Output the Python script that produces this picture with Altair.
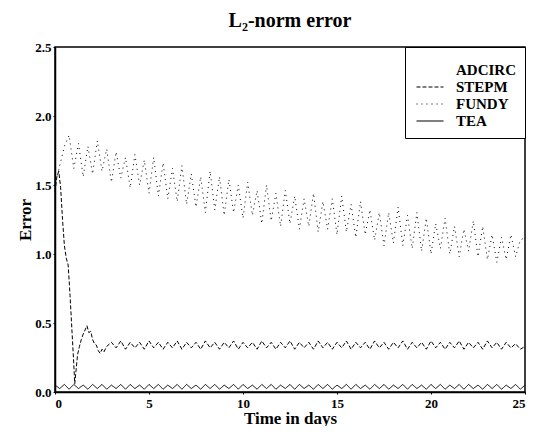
import altair as alt
import pandas as pd

series_names = ["ADCIRC", "STEPM", "FUNDY", "TEA"]

adcirc_t = [0.0, 25.0]
adcirc_v = [0.0, 0.0]

stepm_t = [0.0, 0.1, 0.2, 0.3, 0.4, 0.5, 0.6, 0.7, 0.8, 0.9, 1.0, 1.05, 1.1, 1.2, 1.3,
           1.4, 1.5, 1.6, 1.7, 1.8, 1.9, 2.0, 2.1, 2.2, 2.3, 2.4, 2.5, 2.6, 2.75,
           3.0, 3.25, 3.5, 3.75, 4.0, 4.25, 4.5, 4.75, 5.0, 5.25, 5.5, 5.75, 6.0, 6.25,
           6.5, 6.75, 7.0, 7.25, 7.5, 7.75, 8.0, 8.25, 8.5, 8.75, 9.0, 9.25, 9.5, 9.75,
           10.0, 10.25, 10.5, 10.75, 11.0, 11.25, 11.5, 11.75, 12.0, 12.25, 12.5, 12.75,
           13.0, 13.25, 13.5, 13.75, 14.0, 14.25, 14.5, 14.75, 15.0, 15.25, 15.5, 15.75,
           16.0, 16.25, 16.5, 16.75, 17.0, 17.25, 17.5, 17.75, 18.0, 18.25, 18.5, 18.75,
           19.0, 19.25, 19.5, 19.75, 20.0, 20.25, 20.5, 20.75, 21.0, 21.25, 21.5, 21.75,
           22.0, 22.25, 22.5, 22.75, 23.0, 23.25, 23.5, 23.75, 24.0, 24.25, 24.5, 24.75, 25.0]
stepm_v = [1.45, 1.56, 1.60, 1.48, 1.25, 1.06, 0.97, 0.92, 0.70, 0.45, 0.20, 0.06, 0.13, 0.27, 0.33,
           0.38, 0.42, 0.45, 0.48, 0.43, 0.44, 0.38, 0.35, 0.34, 0.30, 0.28, 0.31, 0.29, 0.33,
           0.36, 0.32, 0.37, 0.31, 0.36, 0.32, 0.36, 0.31, 0.37, 0.32, 0.36, 0.31, 0.36, 0.32,
           0.37, 0.31, 0.36, 0.32, 0.36, 0.31, 0.37, 0.32, 0.36, 0.31, 0.36, 0.32, 0.37, 0.31,
           0.36, 0.32, 0.36, 0.31, 0.37, 0.32, 0.36, 0.31, 0.36, 0.32, 0.37, 0.31,
           0.36, 0.32, 0.36, 0.31, 0.37, 0.32, 0.36, 0.31, 0.36, 0.32, 0.37, 0.31,
           0.36, 0.32, 0.36, 0.31, 0.37, 0.32, 0.36, 0.31, 0.36, 0.32, 0.37, 0.31,
           0.36, 0.32, 0.36, 0.31, 0.37, 0.32, 0.36, 0.31, 0.36, 0.32, 0.37, 0.31,
           0.36, 0.32, 0.36, 0.31, 0.37, 0.32, 0.36, 0.31, 0.36, 0.32, 0.35, 0.31, 0.33]

grid_t = [0.0, 0.25, 0.5, 0.75, 1.0, 1.25, 1.5, 1.75, 2.0, 2.25, 2.5, 2.75, 3.0, 3.25, 3.5, 3.75,
          4.0, 4.25, 4.5, 4.75, 5.0, 5.25, 5.5, 5.75, 6.0, 6.25, 6.5, 6.75, 7.0, 7.25, 7.5, 7.75,
          8.0, 8.25, 8.5, 8.75, 9.0, 9.25, 9.5, 9.75, 10.0, 10.25, 10.5, 10.75, 11.0, 11.25, 11.5,
          11.75, 12.0, 12.25, 12.5, 12.75, 13.0, 13.25, 13.5, 13.75, 14.0, 14.25, 14.5, 14.75,
          15.0, 15.25, 15.5, 15.75, 16.0, 16.25, 16.5, 16.75, 17.0, 17.25, 17.5, 17.75, 18.0,
          18.25, 18.5, 18.75, 19.0, 19.25, 19.5, 19.75, 20.0, 20.25, 20.5, 20.75, 21.0, 21.25,
          21.5, 21.75, 22.0, 22.25, 22.5, 22.75, 23.0, 23.25, 23.5, 23.75, 24.0, 24.25, 24.5,
          24.75, 25.0]

fundy_v = [1.50, 1.64, 1.78, 1.86, 1.62, 1.80, 1.56, 1.78, 1.58, 1.82, 1.60, 1.76, 1.52, 1.74, 1.55, 1.70,
           1.48, 1.72, 1.50, 1.68, 1.44, 1.70, 1.42, 1.66, 1.40, 1.62, 1.38, 1.64, 1.36, 1.58, 1.34, 1.56,
           1.30, 1.60, 1.32, 1.56, 1.28, 1.54, 1.30, 1.50, 1.26, 1.52, 1.28, 1.46, 1.22, 1.50, 1.24,
           1.44, 1.20, 1.46, 1.22, 1.42, 1.18, 1.40, 1.20, 1.44, 1.16, 1.38, 1.18, 1.40,
           1.14, 1.42, 1.16, 1.36, 1.12, 1.38, 1.14, 1.32, 1.10, 1.30, 1.06, 1.30, 1.08,
           1.34, 1.06, 1.28, 1.04, 1.30, 1.02, 1.26, 1.00, 1.22, 1.04, 1.26, 1.00, 1.20,
           0.98, 1.18, 1.02, 1.24, 0.98, 1.20, 0.96, 1.14, 0.94, 1.12, 0.96, 1.14, 0.98,
           1.10, 1.12]

tea_v = [0.05, 0.025, 0.055, 0.02, 0.055, 0.025, 0.05, 0.02, 0.055, 0.025, 0.055, 0.02, 0.05, 0.025, 0.055, 0.02,
         0.055, 0.025, 0.05, 0.02, 0.055, 0.025, 0.055, 0.02, 0.05, 0.025, 0.055, 0.02, 0.055, 0.025, 0.05, 0.02,
         0.055, 0.025, 0.055, 0.02, 0.05, 0.025, 0.055, 0.02, 0.055, 0.025, 0.05, 0.02, 0.055, 0.025, 0.055,
         0.02, 0.05, 0.025, 0.055, 0.02, 0.055, 0.025, 0.05, 0.02, 0.055, 0.025, 0.055, 0.02,
         0.05, 0.025, 0.055, 0.02, 0.055, 0.025, 0.05, 0.02, 0.055, 0.025, 0.055, 0.02, 0.05,
         0.025, 0.055, 0.02, 0.055, 0.025, 0.05, 0.02, 0.055, 0.025, 0.055, 0.02, 0.05, 0.025,
         0.055, 0.02, 0.055, 0.025, 0.05, 0.02, 0.055, 0.025, 0.055, 0.02, 0.05, 0.025, 0.055,
         0.02, 0.05]

x_ticks = [0, 5, 10, 15, 20, 25]
y_ticks = [0.0, 0.5, 1.0, 1.5, 2.0, 2.5]

rows = []
for t, v in zip(adcirc_t, adcirc_v):
    rows.append({"series": "ADCIRC", "t": t, "v": v})
for t, v in zip(stepm_t, stepm_v):
    rows.append({"series": "STEPM", "t": t, "v": v})
for t, v in zip(grid_t, fundy_v):
    rows.append({"series": "FUNDY", "t": t, "v": v})
for t, v in zip(grid_t, tea_v):
    rows.append({"series": "TEA", "t": t, "v": v})
df = pd.DataFrame(rows)

FONT = "Liberation Serif"

chart = alt.Chart(df).mark_line(color="black", strokeWidth=1.0).encode(
    x=alt.X("t:Q", scale=alt.Scale(domain=[0, 25], nice=False),
            axis=alt.Axis(values=x_ticks, title="Time in days", format="d")),
    y=alt.Y("v:Q", scale=alt.Scale(domain=[0, 2.5], nice=False),
            axis=alt.Axis(values=y_ticks, title="Error", format=".1f")),
    strokeDash=alt.StrokeDash(
        "series:N",
        scale=alt.Scale(domain=series_names,
                        range=[[0, 100], [4, 2], [1, 4], [1, 0]]),
        legend=alt.Legend(title=" ", titleFontSize=3, titlePadding=3,
                          orient="top-right", offset=0,
                          strokeColor="black", fillColor="white", padding=9,
                          labelFont=FONT, labelFontWeight="bold", labelFontSize=15,
                          labelColor="black", symbolType="M-1.93,0H1.93", symbolSize=196,
                          symbolStrokeColor="black", symbolStrokeWidth=1.2,
                          symbolOffset=8, labelOffset=18, rowPadding=1),
    ),
    detail="series:N",
).properties(
    width=470,
    height=345,
    padding={"left": 8, "top": 3, "right": 0, "bottom": 0},
    title=alt.TitleParams("L₂-norm error", font=FONT, fontSize=20, fontWeight="bold",
                          color="black", offset=10),
).configure_view(
    stroke="black", strokeWidth=1.5
).configure_axis(
    grid=False, domainColor="black", domainWidth=1.5, tickColor="black", tickSize=2,
    labelFont=FONT, labelFontWeight="bold", labelFontSize=13, labelColor="black",
    titleFont=FONT, titleFontWeight="bold", titleFontSize=17, titleColor="black",
    labelPadding=2,
).configure_axisY(
    titlePadding=0
).configure_axisX(
    titlePadding=0, labelPadding=3
)

chart.save("out.html", embed_options={"renderer": "svg", "actions": False})
